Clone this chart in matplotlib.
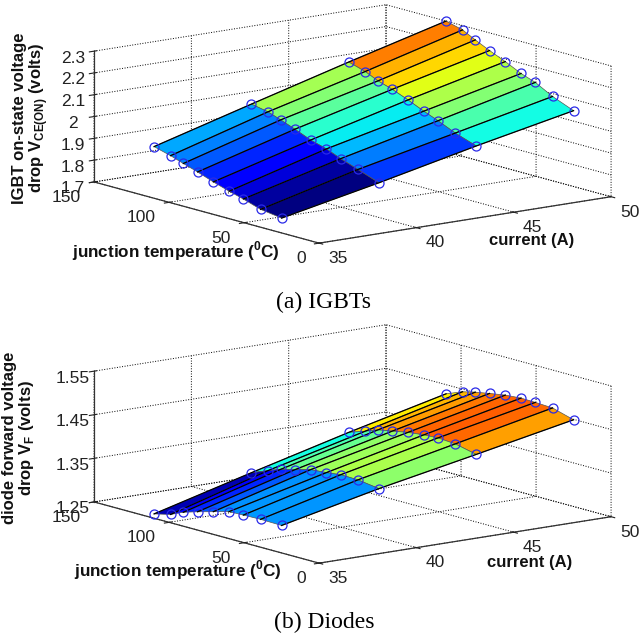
import numpy as np
import matplotlib
matplotlib.use("Agg")
import matplotlib.pyplot as plt
from matplotlib import cm
from matplotlib.colors import Normalize

plt.rcParams['font.family'] = ['Liberation Sans', 'DejaVu Sans']
plt.rcParams['mathtext.fontset'] = 'custom'
plt.rcParams['mathtext.bf'] = 'Liberation Sans:bold'
plt.rcParams['mathtext.rm'] = 'Liberation Sans:bold'
plt.rcParams['grid.color'] = 'black'
plt.rcParams['grid.linestyle'] = ':'
plt.rcParams['grid.linewidth'] = 0.7

# data
currents = [35, 40, 45, 50]
temps = [25, 39, 50.5, 60, 70.5, 81, 90.5, 99, 110]

igbt_35 = [1.768, 1.782, 1.808, 1.826, 1.849, 1.875, 1.896, 1.916, 1.937]
igbt_40 = [1.859, 1.894, 1.922, 1.949, 1.970, 2.000, 2.025, 2.046, 2.061]
igbt_45 = [1.957, 1.990, 2.025, 2.051, 2.083, 2.112, 2.133, 2.160, 2.183]
igbt_50 = [2.048, 2.087, 2.130, 2.153, 2.188, 2.219, 2.250, 2.280, 2.300]

diode_35 = [1.313, 1.314, 1.313, 1.312, 1.302, 1.292, 1.282, 1.269, 1.260]
diode_40 = [1.362, 1.369, 1.370, 1.366, 1.363, 1.353, 1.345, 1.334, 1.319]
diode_45 = [1.405, 1.416, 1.419, 1.417, 1.413, 1.406, 1.400, 1.389, 1.376]
diode_50 = [1.449, 1.463, 1.465, 1.466, 1.463, 1.457, 1.451, 1.444, 1.429]

igbt_ticks = [1.7, 1.8, 1.9, 2, 2.1, 2.2, 2.3]
igbt_ticklabels = ['1.7', '1.8', '1.9', '2', '2.1', '2.2', '2.3']
diode_ticks = [1.25, 1.35, 1.45, 1.55]
diode_ticklabels = ['1.25', '1.35', '1.45', '1.55']
current_ticks = [35, 40, 45, 50]
temp_ticks = [0, 50, 100, 150]

W, H = 644, 639
S = 523


def surf_panel(cy, cols, zticks, zlabels):
    ax = fig.add_axes([(345.5 - S / 2) / W, (H - cy - S / 2) / H, S / W, S / H], projection='3d')
    ax.patch.set_alpha(0)
    ax.set_proj_type('ortho')
    ax.set_box_aspect((370, 373, 134.6))
    ax.view_init(elev=12, azim=232.6)
    ax.computed_zorder = False

    X, Y = np.meshgrid(currents, temps)
    Z = np.array(cols).T
    # colours run a little hotter than a plain min-max scale
    norm = Normalize(Z.min(), Z.min() + 0.95 * (Z.max() - Z.min()), clip=True)
    ax.plot_surface(X, Y, Z, rstride=1, cstride=1, facecolors=cm.jet(norm(Z)),
                    shade=False, edgecolor='#555555', linewidth=0.5, zorder=2)
    for i in range(len(temps)):
        ax.plot(X[i], Y[i], Z[i], color='black', linewidth=0.9, zorder=3)
    ax.plot(X.ravel(), Y.ravel(), Z.ravel(), 'o', mfc='none', mec='#2a2ae8', ms=6.5, mew=0.9,
            linestyle='none', zorder=4)

    ax.set_xlim(35, 50)
    ax.set_ylim(0, 150)
    ax.set_zlim(zticks[0], zticks[-1])
    ax.set_xticks(current_ticks)
    ax.set_yticks(temp_ticks)
    ax.set_zticks(zticks)
    # trailing newline lifts the labels level with their ticks
    ax.set_zticklabels([s + '\n' for s in zlabels], linespacing=1.6)
    for axis in (ax.xaxis, ax.yaxis, ax.zaxis):
        axis.set_pane_color((1, 1, 1, 0))
        axis.pane.set_edgecolor('none')
        axis.line.set_color('#333333')
        axis.line.set_linewidth(0.9)
    ax.tick_params(labelsize=12.5, colors='#222222')
    ax.tick_params(axis='x', pad=0)
    ax.tick_params(axis='y', pad=1)
    ax.tick_params(axis='z', pad=0)
    plt.setp(ax.get_xticklabels(), ha='left')
    plt.setp(ax.get_yticklabels(), ha='right')
    return ax


fig = plt.figure(figsize=(W / 100, H / 100), dpi=100)

surf_panel(131, [igbt_35, igbt_40, igbt_45, igbt_50], igbt_ticks, igbt_ticklabels)
surf_panel(451, [diode_35, diode_40, diode_45, diode_50], diode_ticks, diode_ticklabels)


def px_text(x, y, s, **kw):
    fig.text(x / W, 1 - y / H, s, ha='center', va='center', **kw)


lab = dict(fontweight='bold', color='#111111')
px_text(31, 118, 'IGBT on-state voltage\ndrop V$_{\\mathbf{CE(ON)}}$ (volts)', rotation=90, linespacing=0.95, fontsize=12, **lab)
px_text(176, 251, 'junction temperature ($^{\\mathbf{0}}$C)', fontsize=12.3, **lab)
px_text(532, 240, 'current (A)', fontsize=12, **lab)

px_text(19, 438, 'diode forward voltage\ndrop V$_{\\mathbf{F}}$ (volts)', rotation=90, linespacing=0.95, fontsize=12, **lab)
px_text(178, 570, 'junction temperature ($^{\\mathbf{0}}$C)', fontsize=12.3, **lab)
px_text(530, 563, 'current (A)', fontsize=12, **lab)

px_text(323, 302, '(a) IGBTs', fontsize=17, family='Liberation Serif', color='black')
px_text(324, 622, '(b) Diodes', fontsize=17, family='Liberation Serif', color='black')

fig.savefig('out.png', dpi=100)
